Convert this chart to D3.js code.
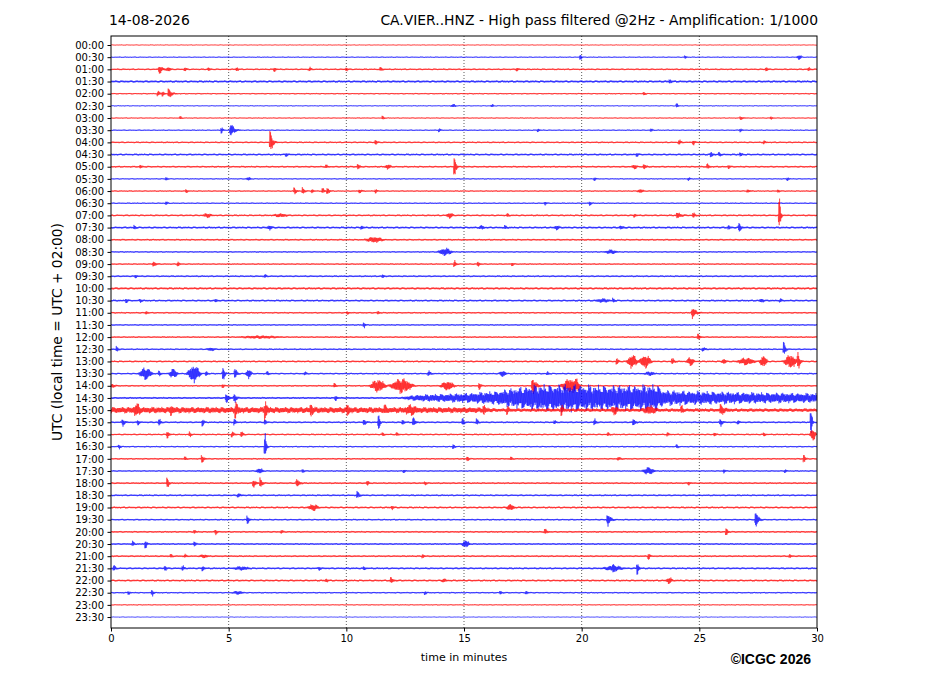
<!DOCTYPE html>
<html><head><meta charset="utf-8">
<script src="https://cdn.jsdelivr.net/npm/d3@7/dist/d3.min.js"></script>
<style>body{margin:0;background:#fff}svg{display:block}</style>
</head><body><svg id="c" width="927" height="696"></svg>
<script>
// ---------------- data ----------------
const titleLeft = "14-08-2026";
const titleRight = "CA.VIER..HNZ - High pass filtered @2Hz - Amplification: 1/1000";
const xLabel = "time in minutes";
const yLabel = "UTC (local time = UTC + 02:00)";
const copyright = "\u00A9ICGC 2026";

const rowLabels = ["00:00","00:30","01:00","01:30","02:00","02:30","03:00","03:30","04:00","04:30",
  "05:00","05:30","06:00","06:30","07:00","07:30","08:00","08:30","09:00","09:30",
  "10:00","10:30","11:00","11:30","12:00","12:30","13:00","13:30","14:00","14:30",
  "15:00","15:30","16:00","16:30","17:00","17:30","18:00","18:30","19:00","19:30",
  "20:00","20:30","21:00","21:30","22:00","22:30","23:00","23:30"];
const rowColors = ["red","blue"]; // on the hour red, half hour blue
const xTicks = [0,5,10,15,20,25,30];
const gridMinutes = [5,10,15,20,25];

// background noise level per row (counts, half amplitude)
const rowNoise = [45,55,75,95,65,50,55,60,75,85, 80,60,65,65,80,90,80,70,70,80,
  95,85,75,70,75,75,80,75,75,90, 80,80,75,70,75,70,80,80,85,75, 80,80,80,85,85,70,55,40];

// discrete events: [row, start minute, duration (min), peak amplitude (counts), shape q=impulsive b=emergent]
const events = [
 [1,29.1,0.3,180,'b'],[1,19.9,0.08,230],[1,24.35,0.08,120],
 [2,2.0,0.25,330],[2,2.3,0.3,150,'b'],[2,3.1,0.1,140],[2,4.1,0.1,120],[2,5.3,0.1,140],[2,6.9,0.1,160],[2,8.4,0.1,140],[2,9.95,0.1,120],[2,11.4,0.15,140],[2,17.2,0.1,120],[2,27.8,0.1,150],[2,29.6,0.1,120],
 [3,23.7,0.1,140],
 [4,1.95,0.15,190],[4,2.15,0.12,190],[4,2.4,0.25,380],[4,22.6,0.1,130],
 [5,14.4,0.3,120,'b'],[5,16.1,0.2,110,'b'],[5,24.0,0.08,190],
 [6,2.9,0.1,110],[6,11.5,0.1,140],[6,26.7,0.2,120],[6,28.0,0.1,110],
 [7,4.65,0.1,240],[7,5.03,0.3,560],[7,13.9,0.1,120],[7,18.1,0.1,120],[7,22.9,0.1,120],[7,26.7,0.1,120],
 [8,6.72,0.2,900],[8,11.2,0.1,190],[8,24.1,0.12,190],[8,24.7,0.1,180],[8,27.7,0.1,120],
 [9,7.4,0.1,120],[9,22.3,0.1,120],[9,25.45,0.12,200],[9,25.8,0.12,140],[9,26.7,0.1,140],
 [10,1.2,0.1,120],[10,9.1,0.1,120],[10,10.45,0.12,210],[10,11.6,0.35,170,'b'],[10,14.55,0.12,900],[10,22.1,0.3,160,'b'],[10,22.6,0.15,200],[10,25.3,0.12,200],[10,26.2,0.1,120],
 [11,2.3,0.1,120],[11,5.7,0.3,120,'b'],[11,20.5,0.1,120],[11,24.5,0.1,110],[11,28.7,0.1,120],
 [12,3.15,0.1,130],[12,7.75,0.15,260],[12,8.1,0.15,260],[12,8.5,0.1,150],[12,8.95,0.12,210],[12,9.15,0.15,270],[12,10.5,0.2,140],[12,11.2,0.1,150],[12,22.3,0.4,130,'b'],[12,27.0,0.2,110],[12,28.3,0.1,110],
 [13,2.3,0.1,130],[13,18.4,0.1,120],[13,20.3,0.1,150],
 [14,3.85,0.5,140,'b'],[14,6.8,0.8,110,'b'],[14,14.2,0.4,200,'b'],[14,16.8,0.1,120],[14,22.2,0.1,120],[14,24.0,0.3,240],[14,24.7,0.12,200],[14,28.35,0.1,1450],
 [15,0.95,0.1,130],[15,6.6,0.3,150,'b'],[15,10.6,0.1,130],[15,15.6,0.3,130,'b'],[15,16.7,0.1,120],[15,18.8,0.3,150,'b'],[15,21.6,0.2,120],[15,26.2,0.1,140],[15,26.65,0.12,400],
 [16,10.7,1.0,200,'b'],
 [17,13.8,0.8,290,'b'],[17,20.9,0.7,140,'b'],
 [18,1.75,0.2,200],[18,2.8,0.1,190],[18,14.55,0.12,260],[18,15.55,0.12,190],[18,17.0,0.1,120],
 [19,1.0,0.1,110],[19,6.5,0.1,120],[19,11.5,0.1,120],
 [21,0.6,0.1,150],[21,1.2,0.1,110],[21,4.4,0.1,110],[21,20.5,0.8,110,'b'],[21,21.3,0.1,150],[21,27.5,0.3,120,'b'],[21,28.4,0.1,120],
 [22,1.45,0.1,110],[22,10.0,0.1,110],[22,11.3,0.1,110],[22,24.65,0.3,440],
 [23,10.7,0.1,200],
 [24,5.2,2.3,80,'b'],[24,24.9,0.15,240],
 [25,0.2,0.1,200],[25,4.0,0.5,100,'b'],[25,25.1,0.2,140],[25,28.55,0.12,560],
 [26,21.45,0.1,280],[26,21.85,0.6,560,'b'],[26,22.35,0.7,540,'b'],[26,23.8,0.15,240],[26,24.4,0.45,330,'b'],[26,25.9,0.3,190,'b'],[26,26.5,1.0,280,'b'],[26,27.5,0.45,470,'b'],[26,28.5,0.75,560,'b'],[26,29.15,0.15,700],
 [27,1.1,0.75,500,'b'],[27,2.0,0.1,190],[27,2.4,0.5,380,'b'],[27,3.15,0.75,720,'b'],[27,4.0,0.1,190],[27,4.72,0.12,600],[27,5.22,0.15,450],[27,5.68,0.35,380,'b'],[27,6.6,0.1,140],[27,8.2,0.1,120],[27,13.45,0.15,190],[27,16.45,0.4,240,'b'],[27,18.5,0.1,120],[27,22.6,0.6,130,'b'],
 [28,0.0,0.2,140],[28,4.7,0.1,130],[28,9.45,0.1,190],[28,10.9,0.9,520,'b'],[28,11.7,1.3,600,'b'],[28,13.9,0.8,380,'b'],[28,15.6,0.12,280],[28,17.85,0.3,720],[28,19.0,1.0,580,'b'],[28,19.6,0.4,350,'b'],
 [29,4.85,0.2,380],[29,5.2,0.15,350],[29,9.5,0.1,190],
 [30,0.9,0.4,380,'b'],[30,2.5,0.15,290],[30,5.25,0.15,580],[30,6.5,0.15,700],[30,8.45,0.12,470],[30,10.0,0.12,380],[30,11.6,0.1,280],[30,12.4,0.7,260,'b'],[30,15.8,0.1,330],[30,16.8,0.1,280],[30,19.1,0.1,380],[30,21.2,0.4,280,'b'],[30,22.5,0.8,260,'b'],[30,24.2,0.1,280],[30,25.85,0.3,380],
 [31,0.45,0.15,280],[31,1.1,0.1,190],[31,2.0,0.12,280],[31,3.85,0.1,280],[31,5.2,0.1,240],[31,6.5,0.1,190],[31,10.7,0.15,240],[31,11.33,0.08,750],[31,12.35,0.1,190],[31,12.8,0.15,380],[31,14.9,0.1,280],[31,15.5,0.1,240],[31,18.8,0.1,140],[31,20.5,0.12,240],[31,22.15,0.15,280],[31,25.85,0.15,280],[31,26.6,0.1,150],[31,29.7,0.08,1150],
 [32,2.35,0.12,300],[32,3.3,0.1,190],[32,5.1,0.15,210],[32,5.5,0.12,240],[32,11.5,0.1,120],[32,12.1,0.1,120],[32,21.07,0.1,130],[32,23.6,0.1,130],[32,25.6,0.1,130],[32,27.7,0.1,130],[32,29.65,0.35,500,'b'],
 [33,0.3,0.1,150],[33,6.5,0.1,1050],[33,14.5,0.1,190],[33,24.0,0.1,130],
 [34,3.1,0.1,130],[34,3.82,0.15,300],[34,15.1,0.1,190],[34,16.95,0.1,120],[34,21.5,0.2,120],[34,29.4,0.1,330],
 [35,6.1,0.45,190,'b'],[35,8.1,0.1,130],[35,12.4,0.1,120],[35,22.5,0.7,280,'b'],[35,26.0,0.1,130],[35,28.6,0.1,120],
 [36,2.35,0.1,450],[36,6.0,0.2,300],[36,6.3,0.15,380],[36,7.85,0.2,330],[36,10.85,0.1,190],[36,13.3,0.1,120],[36,24.5,0.1,120],
 [37,5.35,0.2,140],[37,10.42,0.15,280],
 [38,8.3,0.6,240,'b'],[38,11.9,0.1,130],[38,16.75,0.45,240,'b'],
 [39,5.75,0.12,340],[39,21.05,0.25,500],[39,27.35,0.2,720],
 [40,3.5,0.1,120],[40,4.4,0.1,190],[40,7.2,0.1,120],[40,18.4,0.15,200],[40,26.1,0.1,330],
 [41,0.88,0.1,190],[41,1.42,0.1,330],[41,3.5,0.1,190],[41,14.85,0.45,290,'b'],
 [42,2.5,0.1,120],[42,3.1,0.1,120],[42,3.7,0.5,110,'b'],[42,13.2,0.1,140],[42,22.8,0.1,240],[42,28.8,0.1,120],
 [43,0.08,0.1,240],[43,2.25,0.1,190],[43,3.0,0.1,190],[43,3.85,0.1,190],[43,5.1,0.9,110,'b'],[43,8.8,0.1,120],[43,10.7,0.1,120],[43,20.8,1.1,180,'b'],[43,21.3,0.1,240],[43,22.32,0.1,520],
 [44,9.1,0.1,120],[44,11.85,0.15,240],[44,14.0,0.3,120,'b'],[44,23.55,0.35,240,'b'],
 [45,0.7,0.1,120],[45,1.7,0.1,240],[45,5.1,0.6,110,'b'],[45,13.3,0.1,120],[45,16.5,0.1,130],[45,17.6,0.1,120]
];

// long emergent signals: envelope control points [minute, counts]
const swellRow29 = [[0,0],[12.3,0],[13,190],[15,320],[16.3,480],[17,740],[17.8,960],[18.5,1060],[19.5,1100],[20.5,1000],[22,1000],[23.2,1050],[23.5,580],[25,500],[27,400],[30,310]];
const swellRow30 = [[0,190],[15.5,170],[16.5,70],[30,70]];
const swells = [[29, swellRow29],[30, swellRow30]];

// texture of the trace oscillation (style constants, combined cyclically)
const texA = [1,0.6,0.85,0.7,0.95,0.55,0.8];
const texB = [0.9,0.7,1,0.6,0.85,0.75,0.95,0.65,1,0.8,0.7];

// ---------------- layout ----------------
const M = {left:111, right:817, top:36, bottom:628};
const svg = d3.select("#c");

const x = d3.scaleLinear().domain([0,30]).range([M.left, M.right]);
const y = d3.scaleLinear().domain([-0.74, 47.9]).range([M.top, M.bottom]);
const rowStep = y(1) - y(0);
const amp = d3.scaleLinear().domain([0,1000]).range([0,rowStep]);

// titles
svg.append("text").attr("x",109).attr("y",25).attr("font-family","DejaVu Sans").attr("font-size",13.9).text(titleLeft);
svg.append("text").attr("x",818).attr("y",25).attr("text-anchor","end").attr("font-family","DejaVu Sans").attr("font-size",13.9).text(titleRight);

// clip
svg.append("clipPath").attr("id","clip").append("rect")
  .attr("x",M.left).attr("y",M.top).attr("width",M.right-M.left).attr("height",M.bottom-M.top);

// grid
svg.append("g").selectAll("line").data(gridMinutes).join("line")
  .attr("x1",d=>x(d)).attr("x2",d=>x(d)).attr("y1",M.top).attr("y2",M.bottom)
  .attr("stroke","#333").attr("stroke-width",0.8).attr("stroke-dasharray","1,2");

// traces
const dt = 0.015;
const times = d3.range(0, 30 + dt/2, dt);
const evByRow = d3.group(events, d => d[0]);
const swellScales = new Map(swells.map(([r, pts]) => [r,
  d3.scaleLinear().domain(pts.map(p=>p[0])).range(pts.map(p=>p[1])).clamp(true)]));

function evEnv(ev, t) {
  const [, t0, dur, a, shape] = ev;
  if (shape === 'b') {
    if (t < t0 || t > t0 + dur) return 0;
    const s = Math.sin(Math.PI * (t - t0) / dur);
    return a * s * s;
  }
  if (t < t0) return 0;
  const r = Math.max(0.015, 0.12 * dur);
  const hold = Math.max(0.055, 0.1 * dur);
  if (t < t0 + r) return a * (t - t0) / r;
  if (t < t0 + r + hold) return a;
  const e = Math.exp(-(t - t0 - r - hold) / (0.35 * dur));
  return e < 0.02 ? 0 : a * e;
}
function tex(i) {
  const s = (i % 2) ? -1 : 1;
  return s * texA[i % texA.length] * texB[i % texB.length];
}

const gTr = svg.append("g").attr("clip-path","url(#clip)");
rowLabels.forEach((lab, row) => {
  const evs = evByRow.get(row) || [];
  const sw = swellScales.get(row);
  const pts = times.map((t, i) => {
    let e = rowNoise[row];
    for (const ev of evs) e += evEnv(ev, t);
    if (sw) e += sw(t);
    return [t, e * tex(i + row * 5)];
  });
  const line = d3.line().x(d => x(d[0])).y(d => y(row) - amp(d[1]));
  gTr.append("path").attr("d", line(pts)).attr("fill","none")
    .attr("stroke", rowColors[row % 2]).attr("stroke-width",0.55).attr("stroke-opacity",0.85)
    .attr("stroke-linejoin","bevel");
});

// frame
svg.append("rect").attr("x",M.left).attr("y",M.top).attr("width",M.right-M.left).attr("height",M.bottom-M.top)
  .attr("fill","none").attr("stroke","#000").attr("stroke-width",1);

// axes
const xAxis = d3.axisBottom(x).tickValues(xTicks).tickSize(3.5).tickPadding(3.5).tickFormat(d3.format("d"));
const gx = svg.append("g").attr("transform",`translate(0,${M.bottom})`).call(xAxis);
gx.select(".domain").remove();
gx.selectAll("text").attr("font-family","DejaVu Sans").attr("font-size",10).attr("fill","#000");
gx.selectAll("line").attr("stroke","#000");

const yAxis = d3.axisLeft(y).tickValues(d3.range(rowLabels.length)).tickFormat(i => rowLabels[i]).tickSize(3.5).tickPadding(3.5);
const gy = svg.append("g").attr("transform",`translate(${M.left},0)`).call(yAxis);
gy.select(".domain").remove();
gy.selectAll("text").attr("font-family","DejaVu Sans").attr("font-size",10).attr("fill","#000");
gy.selectAll("line").attr("stroke","#000");

// axis labels
svg.append("text").attr("x",(M.left+M.right)/2).attr("y",661).attr("text-anchor","middle")
  .attr("font-family","DejaVu Sans").attr("font-size",11).text(xLabel);
svg.append("text").attr("transform",`translate(62,${(M.top+M.bottom)/2}) rotate(-90)`).attr("text-anchor","middle")
  .attr("font-family","DejaVu Sans").attr("font-size",13.8).text(yLabel);
svg.append("text").attr("x",811).attr("y",664).attr("text-anchor","end")
  .attr("font-family","Liberation Sans").attr("font-weight","bold").attr("font-size",14).text(copyright);
</script>
</body></html>
